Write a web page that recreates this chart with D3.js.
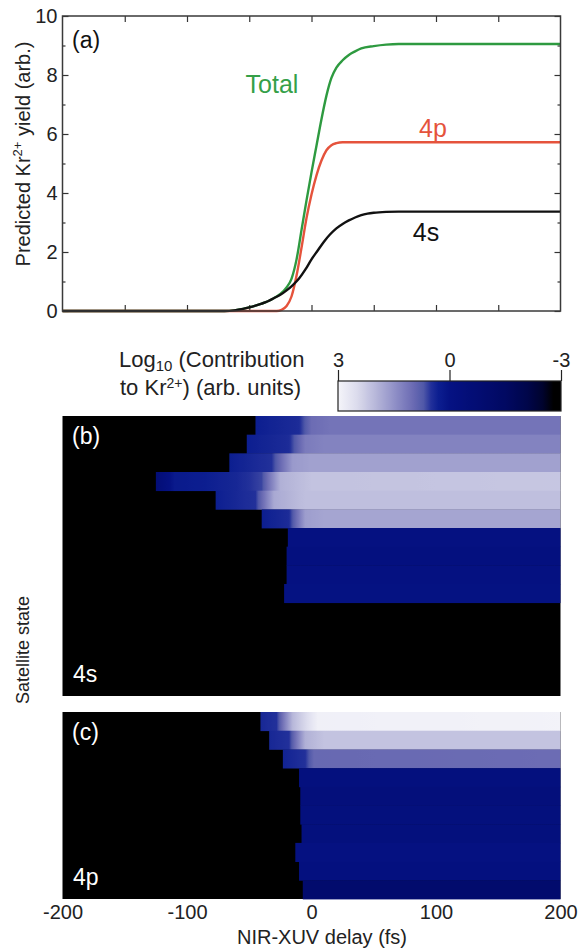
<!DOCTYPE html>
<html><head><meta charset="utf-8">
<script src="https://cdn.jsdelivr.net/npm/d3@7"></script>
<style>
html,body{margin:0;padding:0;background:#fff;}
svg text{font-family:"Liberation Sans",Arial,Helvetica,sans-serif;}
</style></head>
<body><svg id="c" width="581" height="950"></svg>
<script>
// ---------------- DATA ----------------
const xTicks = [-200, -100, 0, 100, 200];
const yTicksA = [0, 2, 4, 6, 8, 10];
const cbarTicks = [3, 0, -3];

// Panel (a) curves: delay (fs) -> predicted yield
const delays4s = [-200, -70, -62, -55, -50, -45, -40, -35, -30, -25, -20, -15, -10, -5, 0, 5, 10, 15, 20, 25, 30, 35, 40, 45, 50, 60, 70, 200];
const yield4s  = [0, 0, 0.02, 0.07, 0.12, 0.18, 0.25, 0.33, 0.44, 0.55, 0.7, 0.88, 1.1, 1.4, 1.75, 2.05, 2.35, 2.6, 2.8, 2.95, 3.07, 3.17, 3.25, 3.3, 3.33, 3.36, 3.37, 3.37];
const delays4p = [-200, -28, -24, -20, -16, -12, -8, -4, 0, 4, 8, 12, 16, 20, 25, 200];
const yield4p  = [0, 0, 0.04, 0.17, 0.5, 1.2, 2.15, 3.15, 3.95, 4.6, 5.1, 5.45, 5.62, 5.69, 5.72, 5.72];
const delaysTot = [-200, -70, -62, -55, -50, -45, -40, -35, -30, -25, -20, -16, -12, -8, -4, 0, 4, 8, 12, 16, 20, 25, 30, 35, 40, 50, 60, 70, 200];
const yieldTot  = [0, 0, 0.02, 0.07, 0.12, 0.18, 0.25, 0.33, 0.44, 0.58, 0.8, 1.1, 1.75, 2.75, 3.75, 4.7, 5.6, 6.5, 7.3, 7.9, 8.25, 8.5, 8.68, 8.8, 8.9, 8.98, 9.03, 9.05, 9.05];
const seriesNames = ["Total", "4p", "4s"];

// Panels (b),(c): per satellite state, stops [delay, log10 contribution]; black before first stop
const rows4s = [
  [[-45, 0.3], [-10, 0.45], [0, 1.0], [15, 1.1], [200, 1.1]],
  [[-52, 0.3], [-18, 0.45], [-5, 1.2], [10, 1.3], [200, 1.3]],
  [[-66, 0.3], [-32, 0.5], [-15, 1.6], [0, 1.7], [200, 1.7]],
  [[-125, -0.6], [-110, 0.2], [-60, 0.4], [-40, 0.6], [-25, 1.9], [0, 2.15], [200, 2.2]],
  [[-77, 0.3], [-45, 0.5], [-30, 1.8], [-5, 2.1], [200, 2.1]],
  [[-40, 0.3], [-18, 0.45], [-5, 1.65], [10, 1.75], [200, 1.75]],
  [[-19, -0.1], [200, -0.1]],
  [[-20, -0.2], [200, -0.2]],
  [[-20, -0.1], [200, -0.1]],
  [[-22, -0.05], [200, -0.05]],
  [], [], [], [], []
];
const rows4p = [
  [[-41, 0.4], [-28, 0.5], [-15, 2.0], [5, 2.9], [200, 2.95]],
  [[-34, 0.4], [-18, 0.5], [-5, 1.9], [10, 2.15], [200, 2.15]],
  [[-23, 0.35], [-5, 0.5], [2, 0.95], [200, 1.0]],
  [[-10, -0.25], [200, -0.25]],
  [[-9, -0.35], [200, -0.35]],
  [[-9, -0.3], [200, -0.3]],
  [[-8, -0.3], [200, -0.3]],
  [[-13, -0.1], [200, -0.1]],
  [[-10, -0.2], [200, -0.2]],
  [[-7, -1.0], [200, -1.0]]
];

// colormap (log10 value -> colour)
const cmapValues = [3, 2.5, 2, 1.5, 1, 0.7, 0.5, 0.3, 0, -0.6, -1.5, -2.1, -2.5, -2.8, -3];
const cmapColors = ["#f5f5fa", "#dcdced", "#b8b8da", "#9292c8", "#6c6cb4", "#5058a8", "#22309a", "#0c1e90", "#051283", "#030d76", "#010962", "#00064a", "#00032e", "#000000", "#000000"];

// ---------------- DRAW ----------------
const svg = d3.select("#c");
const FONT = 20;
const fmt = d => String(d);
const x = d3.scaleLinear().domain([-200, 200]).range([62.5, 560.5]);
const yA = d3.scaleLinear().domain([0, 10]).range([311, 16]);
const color = d3.scaleLinear().domain(cmapValues).range(cmapColors).clamp(true);
const defs = svg.append("defs");

// ---- panel (a)
const gA = svg.append("g");
const axB = d3.axisBottom(x).tickValues([-150,-100,-50,0,50,100,150]).tickSize(-6).tickFormat("");
const axT = d3.axisTop(x).tickValues([-150,-100,-50,0,50,100,150]).tickSize(-6).tickFormat("");
gA.append("g").attr("transform", `translate(0,${yA(0)})`).call(axB);
gA.append("g").attr("transform", `translate(0,${yA(10)})`).call(axT);
const axL = d3.axisLeft(yA).tickValues(yTicksA).tickSize(-6).tickPadding(5).tickFormat(fmt);
const axLm = d3.axisLeft(yA).tickValues([1,3,5,7,9]).tickSize(-3).tickFormat("");
const axR = d3.axisRight(yA).tickValues(yTicksA).tickSize(-6).tickFormat("");
const axRm = d3.axisRight(yA).tickValues([1,3,5,7,9]).tickSize(-3).tickFormat("");
gA.append("g").attr("transform", `translate(${x(-200)},0)`).call(axL);
gA.append("g").attr("transform", `translate(${x(-200)},0)`).call(axLm);
gA.append("g").attr("transform", `translate(${x(200)},0)`).call(axR);
gA.append("g").attr("transform", `translate(${x(200)},0)`).call(axRm);
gA.selectAll(".domain").remove();
gA.selectAll(".tick line").attr("stroke", "#333").attr("stroke-width", 1.2);
gA.selectAll(".tick text").attr("font-size", FONT).attr("fill", "#222");

const line = d3.line().x(d => x(d[0])).y(d => yA(d[1])).curve(d3.curveMonotoneX);
const curves = [
  {name: seriesNames[0], d: d3.zip(delaysTot, yieldTot), c: "#2e9a40"},
  {name: seriesNames[1], d: d3.zip(delays4p, yield4p), c: "#e5533c"},
  {name: seriesNames[2], d: d3.zip(delays4s, yield4s), c: "#111111"}
];
gA.selectAll("path.curve").data(curves).enter().append("path").attr("class","curve")
  .attr("d", d => line(d.d)).attr("fill","none").attr("stroke", d => d.c).attr("stroke-width", 2.4);

gA.append("rect").attr("x", x(-200)).attr("y", yA(10)).attr("width", x(200)-x(-200)).attr("height", yA(0)-yA(10))
  .attr("fill","none").attr("stroke","#3a3a3a").attr("stroke-width",1.5);

gA.append("text").attr("x", 72).attr("y", 48).attr("font-size", 23).attr("fill","#111").text("(a)");
gA.append("text").attr("x", 272).attr("y", 93).attr("text-anchor","middle").attr("font-size", 25).attr("fill","#35a048").text(seriesNames[0]);
gA.append("text").attr("x", 433).attr("y", 137).attr("text-anchor","middle").attr("font-size", 25).attr("fill","#e5533c").text(seriesNames[1]);
gA.append("text").attr("x", 426).attr("y", 241).attr("text-anchor","middle").attr("font-size", 25).attr("fill","#111").text(seriesNames[2]);

const yl = svg.append("text").attr("transform","translate(30,154) rotate(-90)").attr("text-anchor","middle")
  .attr("font-size", 20).attr("fill","#222");
yl.append("tspan").text("Predicted Kr");
yl.append("tspan").attr("font-size", 13).attr("dy", -8).text("2+");
yl.append("tspan").attr("dy", 8).text(" yield (arb.)");

// ---- colour bar
const cb = d3.scaleLinear().domain([3, -3]).range([338, 561]);
const cbg = defs.append("linearGradient").attr("id","cbgrad").attr("gradientUnits","userSpaceOnUse")
  .attr("x1", cb(3)).attr("x2", cb(-3)).attr("y1",0).attr("y2",0);
d3.range(0, 61).forEach(i => {
  const v = 3 - i * 0.1;
  cbg.append("stop").attr("offset", (cb(v)-cb(3))/(cb(-3)-cb(3))).attr("stop-color", color(v));
});
svg.append("rect").attr("x", cb(3)).attr("y", 381).attr("width", cb(-3)-cb(3)).attr("height", 30)
  .attr("fill","url(#cbgrad)").attr("stroke","#222").attr("stroke-width",1.2);
const cbAx = svg.append("g").attr("transform","translate(0,381)")
  .call(d3.axisTop(cb).tickValues(cbarTicks).tickSize(11).tickPadding(3).tickFormat(fmt));
cbAx.select(".domain").remove();
cbAx.selectAll(".tick line").attr("stroke","#222").attr("stroke-width",1.2);
cbAx.selectAll(".tick text").attr("font-size", FONT).attr("fill","#222");

const t1 = svg.append("text").attr("x", 119).attr("y", 367).attr("font-size", 22).attr("fill","#222");
t1.append("tspan").text("Log");
t1.append("tspan").attr("font-size", 15).attr("dy", 4).text("10");
t1.append("tspan").attr("dy", -4).text(" (Contribution");
const t2 = svg.append("text").attr("x", 120).attr("y", 395).attr("font-size", 22).attr("fill","#222");
t2.append("tspan").text("to Kr");
t2.append("tspan").attr("font-size", 14).attr("dy", -7).text("2+");
t2.append("tspan").attr("dy", 7).text(") (arb. units)");

// ---- heatmaps
function heatmap(rows, top, bottom, id, label, state) {
  const g = svg.append("g");
  const yb = d3.scaleBand().domain(d3.range(rows.length)).range([top, bottom]);
  g.append("rect").attr("x", x(-200)).attr("y", top).attr("width", x(200)-x(-200)).attr("height", bottom-top).attr("fill","#000");
  rows.forEach((stops, i) => {
    if (!stops.length) return;
    const gid = `${id}-${i}`;
    const x0 = x(stops[0][0]), x1 = x(stops[stops.length-1][0]);
    const grad = defs.append("linearGradient").attr("id", gid).attr("gradientUnits","userSpaceOnUse")
      .attr("x1", x0).attr("x2", x1).attr("y1", 0).attr("y2", 0);
    for (let k = 0; k < stops.length - 1; k++) {
      const [d0, v0] = stops[k], [d1, v1] = stops[k+1];
      const n = 12;
      for (let s = 0; s <= n; s++) {
        const t = s / n;
        const dd = d0 + (d1 - d0) * t, vv = v0 + (v1 - v0) * t;
        grad.append("stop").attr("offset", (x(dd) - x0) / (x1 - x0)).attr("stop-color", color(vv));
      }
    }
    g.append("rect").attr("x", x0).attr("y", yb(i)).attr("width", x1 - x0).attr("height", yb.bandwidth() + 0.4)
      .attr("fill", `url(#${gid})`);
  });
  g.append("text").attr("x", 72).attr("y", top + 28).attr("font-size", 23).attr("fill","#fff").text(label);
  g.append("text").attr("x", 73).attr("y", bottom - 14).attr("font-size", 23).attr("fill","#fff").text(state);
}
heatmap(rows4s, 416, 696, "hb", "(b)", "4s");
heatmap(rows4p, 712, 899, "hc", "(c)", "4p");

const xAx = svg.append("g").attr("transform","translate(0,899)")
  .call(d3.axisBottom(x).tickValues(xTicks).tickSize(0).tickPadding(6).tickFormat(fmt));
xAx.select(".domain").remove();
xAx.selectAll(".tick text").attr("font-size", FONT).attr("fill","#222");

svg.append("text").attr("x", 322).attr("y", 944).attr("text-anchor","middle").attr("font-size", 20).attr("fill","#222").text("NIR-XUV delay (fs)");
svg.append("text").attr("transform","translate(29,650) rotate(-90)").attr("text-anchor","middle").attr("font-size", 18).attr("fill","#222").text("Satellite state");
</script></body></html>
